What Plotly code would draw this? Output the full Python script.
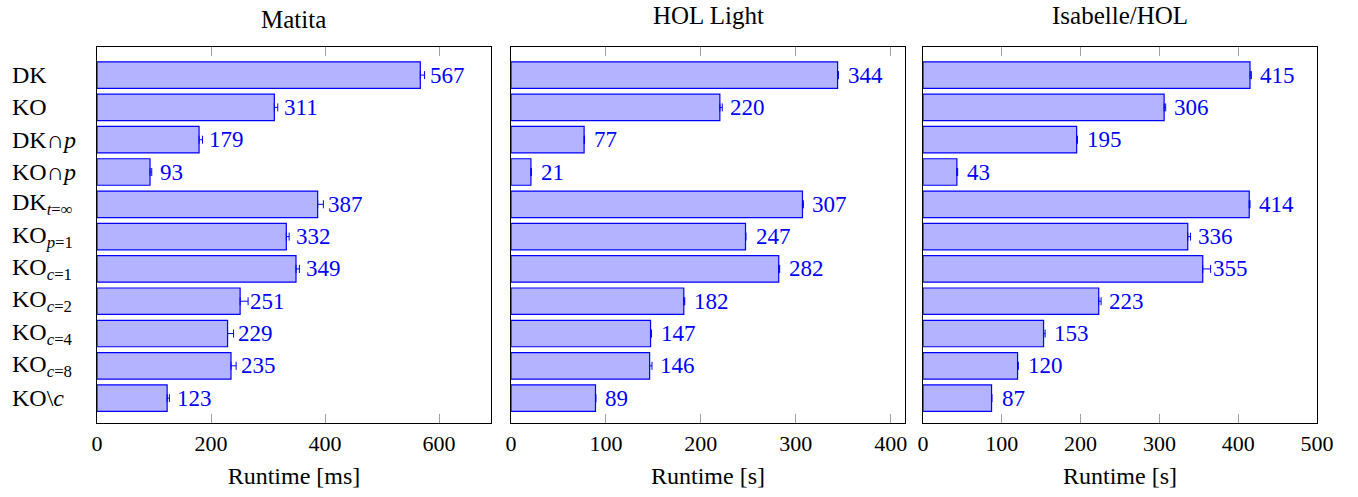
import plotly.graph_objects as go
from plotly.subplots import make_subplots

categories = ["DK", "KO", "DK∩<i>p</i>", "KO∩<i>p</i>", "DK<sub><i>t</i>=∞</sub>",
              "KO<sub><i>p</i>=1</sub>", "KO<sub><i>c</i>=1</sub>", "KO<sub><i>c</i>=2</sub>",
              "KO<sub><i>c</i>=4</sub>", "KO<sub><i>c</i>=8</sub>", "KO\\<i>c</i>"]
matita = [567, 311, 179, 93, 387, 332, 349, 251, 229, 235, 123]
matita_err = [7.5, 6, 6, 3, 10, 5, 6, 14, 10.5, 9, 4]
hol = [344, 220, 77, 21, 307, 247, 282, 182, 147, 146, 89]
hol_err = [1, 2.5, 0.5, 0.5, 1, 0.5, 1, 1, 1, 2.5, 0.5]
isa = [415, 306, 195, 43, 414, 336, 355, 223, 153, 120, 87]
isa_err = [1.7, 2, 1, 1, 1, 3.4, 10, 3, 2, 1, 0.5]
titles = ["Matita", "HOL Light", "Isabelle/HOL"]
xtitles = ["Runtime [ms]", "Runtime [s]", "Runtime [s]"]
xticks = [[0, 200, 400, 600], [0, 100, 200, 300, 400], [0, 100, 200, 300, 400, 500]]
xranges = [[0, 691], [0, 415], [0, 500]]

FONT = "Liberation Serif"
BLUE = "#0000ff"
FILL = "#b3b3ff"

series = [(matita, matita_err), (hol, hol_err), (isa, isa_err)]
domains = [[0.0, 0.32295], [0.33934, 0.66230], [0.67705, 1.0]]
title_y = [1.074, 1.084, 1.084]
ypos = list(range(len(categories)))

fig = make_subplots(rows=1, cols=3)
annotations = []
for k, (vals, errs) in enumerate(series):
    fig.add_trace(go.Bar(
        x=vals, y=ypos, orientation="h", width=0.82,
        marker=dict(color=FILL, line=dict(color=BLUE, width=1.2)),
        error_x=dict(type="data", array=errs, arrayminus=[0] * len(errs),
                     symmetric=False, color=BLUE, thickness=1, width=4),
        showlegend=False, hoverinfo="x+y"), row=1, col=k + 1)
    sfx = "" if k == 0 else str(k + 1)
    for i, v in enumerate(vals):
        annotations.append(dict(x=v, y=i, xref="x" + sfx, yref="y" + sfx, text=str(v),
                                showarrow=False, xanchor="left", yanchor="middle",
                                xshift=8, font=dict(family=FONT, size=23, color=BLUE)))
    annotations.append(dict(x=sum(domains[k]) / 2, y=title_y[k],
                            xref="paper", yref="paper", text=titles[k], showarrow=False,
                            xanchor="center", yanchor="middle",
                            font=dict(family=FONT, size=25, color="black")))
    axis_common = dict(showline=True, linecolor="black", linewidth=1.2, mirror=True,
                       showgrid=False, zeroline=False)
    fig.update_xaxes(domain=domains[k], range=xranges[k], tickvals=xticks[k],
                     ticks="inside", ticklen=9, tickcolor="#a0a0a0", tickwidth=1.2,
                     title=dict(text=xtitles[k], font=dict(family=FONT, size=24), standoff=12),
                     tickfont=dict(family=FONT, size=22, color="black"), automargin=False,
                     row=1, col=k + 1, **axis_common)
    fig.update_yaxes(range=[10.77, -0.87], showticklabels=False, ticks="", automargin=False,
                     row=1, col=k + 1, **axis_common)
    fig.layout["xaxis" + sfx].mirror = "ticks"

for i, c in enumerate(categories):
    annotations.append(dict(x=-0.0713, y=i, xref="paper", yref="y", text=c,
                            showarrow=False, xanchor="left", yanchor="middle",
                            font=dict(family=FONT, size=24, color="black")))

fig.update_layout(width=1358, height=497, margin=dict(l=97, r=41, t=47, b=74),
                  plot_bgcolor="white", paper_bgcolor="white", bargap=0.1,
                  annotations=annotations, font=dict(family=FONT, color="black"))
fig.write_html("out.html", config={"displayModeBar": False},
               post_script="document.body.style.margin='0px';")
